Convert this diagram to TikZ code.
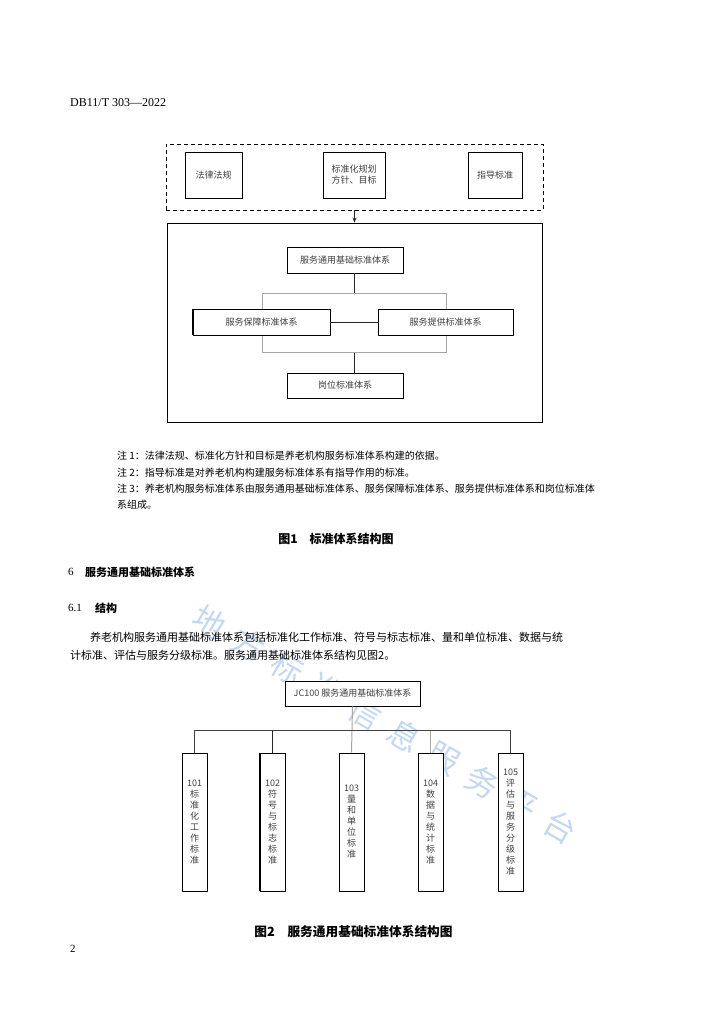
\documentclass[tikz,border=0pt]{standalone}
\usepackage{fontspec}
\setmainfont{Liberation Serif}
\newfontfamily\cjk{Noto Sans CJK SC}
\usetikzlibrary{arrows.meta}
\definecolor{wmblue}{RGB}{196,216,243}
\tikzset{
 box/.style={draw=black, line width=0.9pt, fill=white, inner sep=0pt, font=\cjk\fontsize{9}{11}\selectfont, text=black!75, align=center},
 vbox/.style={box, minimum width=25pt, minimum height=138pt},
 ln/.style={line width=1pt, draw=black!85},
 gln/.style={line width=1pt, draw=black!35},
 body/.style={anchor=west, inner sep=0pt, font=\cjk\fontsize{11}{13}\selectfont},
 note/.style={anchor=west, inner sep=0pt, font=\cjk\fontsize{10}{12}\selectfont},
 head/.style={anchor=west, inner sep=0pt, font=\cjk\bfseries\fontsize{11}{13}\selectfont},
 num/.style={anchor=west, inner sep=0pt, font=\fontsize{11}{13}\selectfont},
 figcap/.style={inner sep=0pt, font=\cjk\bfseries\fontsize{12}{14}\selectfont},
 wm/.style={font=\cjk\fontsize{32}{32}\selectfont, text=wmblue, rotate=-30.4, inner sep=0pt},
}
\begin{document}
\begin{tikzpicture}[x=1pt,y=-1pt]
\useasboundingbox[fill=white] (0,0) rectangle (724,1024);

% watermark
\foreach \c [count=\i from 0] in {地,方,标,准,信,息,服,务,平,台}
  \node[wm] (wm\i) at ({210+38.9*\i},{622+22.8*\i}) {\c};

% header
\node[num, font=\fontsize{12}{14}\selectfont] (hdr) at (70,103) {DB11/T\ 303—2022};

% figure 1
\node[draw, dash pattern=on 4pt off 3pt, line width=0.9pt, minimum width=377pt, minimum height=66pt, inner sep=0pt] (dz) at (354.5,177) {};
\node[box, minimum width=57pt, minimum height=46pt] (b1) at (213.5,175) {法律法规};
\node[box, minimum width=62pt, minimum height=46pt] (b2) at (354,175) {标准化规划\\方针、目标};
\node[box, minimum width=54pt, minimum height=46pt] (b3) at (495,175) {指导标准};
\node[draw, line width=0.9pt, minimum width=375pt, minimum height=199pt, inner sep=0pt] (ob) at (354.5,322.5) {};
\draw[ln, -{Stealth[length=5pt,width=4pt]}] (dz.south) -- (ob.north);

\node[draw=black!35, line width=1pt, minimum width=184pt, minimum height=59pt, inner sep=0pt] (gr) at (354,322.5) {};
\node[box, minimum width=116pt, minimum height=26pt] (t1) at (345,260) {服务通用基础标准体系};
\node[box, minimum width=137pt, minimum height=26pt] (l1) at (261.5,322) {服务保障标准体系};
\node[box, minimum width=135pt, minimum height=26pt] (r1) at (445.5,322) {服务提供标准体系};
\node[box, minimum width=116pt, minimum height=25pt] (d1) at (345,385.5) {岗位标准体系};
\draw[line width=1.6pt] (l1.north west) -- (l1.south west);
\draw[line width=1.6pt] (r1.north east) -- (r1.south east);
\draw[ln] (t1.south -| gr.north) -- (gr.north);
\draw[ln] (l1.east) -- (r1.west);
\draw[ln] (gr.south) -- (d1.north -| gr.south);

% notes
\node[note] (n1) at (117,456) {注 1：法律法规、标准化方针和目标是养老机构服务标准体系构建的依据。};
\node[note] (n2) at (117,473) {注 2：指导标准是对养老机构构建服务标准体系有指导作用的标准。};
\node[note] (n3) at (117,489) {注 3：养老机构服务标准体系由服务通用基础标准体系、服务保障标准体系、服务提供标准体系和岗位标准体};
\node[note] (n4) at (117,505) {系组成。};
\node[figcap] (c1) at (336,539) {图1\quad 标准体系结构图};

% section
\node[num] (s6n) at (68,572) {6};
\node[head] (s6) at (85,572) {服务通用基础标准体系};
\node[num] (s61n) at (68,608) {6.1};
\node[head] (s61) at (95,608) {结构};
\node[body] (p1) at (90,637) {养老机构服务通用基础标准体系包括标准化工作标准、符号与标志标准、量和单位标准、数据与统};
\node[body] (p2) at (70,655) {计标准、评估与服务分级标准。服务通用基础标准体系结构见图2。};

% figure 2
\node[box, minimum width=135pt, minimum height=25pt] (jc) at (352.5,693.5) {JC100\ 服务通用基础标准体系};
\node[vbox] (v1) at (194.5,822) {101\\标\\准\\化\\工\\作\\标\\准};
\node[vbox] (v2) at (272.5,822) {102\\符\\号\\与\\标\\志\\标\\准};
\node[vbox] (v3) at (351.5,822) {103\\量\\和\\单\\位\\标\\准};
\node[vbox] (v4) at (430.5,822) {104\\数\\据\\与\\统\\计\\标\\准};
\node[vbox] (v5) at (510.5,822) {105\\评\\估\\与\\服\\务\\分\\级\\标\\准};
\draw[line width=1.8pt] (v2.north west) -- (v2.south west);
\coordinate (bus) at (352,730);
\draw[gln] (jc.south) -- (v3.north);
\draw[gln] (v4.north) -- (v4.north |- bus);
\draw[ln, draw=black!75] (v1.north) -- (v1.north |- bus) -- (v5.north |- bus) -- (v5.north);
\draw[ln] (v2.north) -- (v2.north |- bus);

\node[figcap, font=\cjk\bfseries\fontsize{12.7}{14}\selectfont] (c2) at (353.5,932) {图2\quad 服务通用基础标准体系结构图};
\node[num] (pg) at (70,949) {2};
\end{tikzpicture}
\end{document}
